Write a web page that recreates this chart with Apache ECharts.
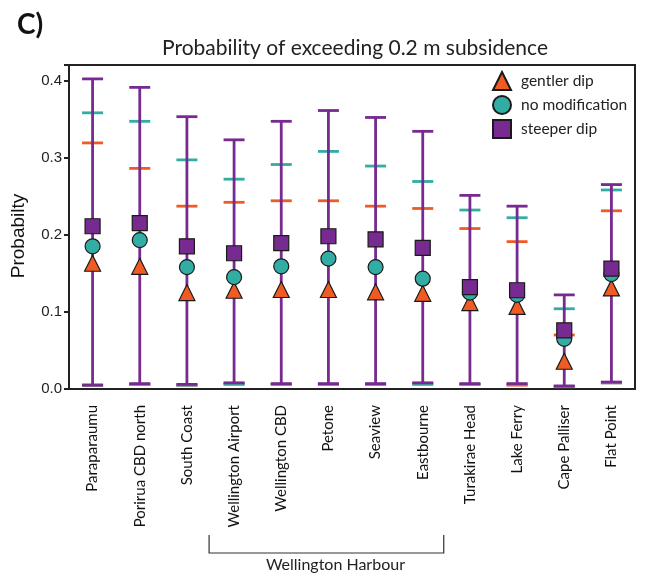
<!DOCTYPE html>
<html style="height: 100%">
<head>
<meta charset="utf-8">
<script src="https://cdn.jsdelivr.net/npm/echarts@6/dist/echarts.min.js"></script>
</head>
<body style="height: 100%; margin: 0; background: #fff">
<div id="container" style="width: 645px; height: 578px"></div>
<script type="text/javascript">
var sites = ['Paraparaumu', 'Porirua CBD north', 'South Coast', 'Wellington Airport', 'Wellington CBD',
    'Petone', 'Seaview', 'Eastbourne', 'Turakirae Head', 'Lake Ferry', 'Cape Palliser', 'Flat Point'];

// central values and upper / lower bounds
var gentlerMid = [0.163, 0.159, 0.125, 0.128, 0.129, 0.129, 0.126, 0.124, 0.112, 0.107, 0.036, 0.131];
var gentlerHi  = [0.319, 0.286, 0.237, 0.242, 0.244, 0.244, 0.237, 0.234, 0.208, 0.191, 0.070, 0.231];
var gentlerLo  = [0.005, 0.006, 0.005, 0.006, 0.006, 0.006, 0.006, 0.006, 0.006, 0.005, 0.003, 0.008];

var noModMid = [0.185, 0.193, 0.158, 0.145, 0.159, 0.169, 0.158, 0.143, 0.125, 0.122, 0.065, 0.149];
var noModHi  = [0.358, 0.347, 0.297, 0.272, 0.291, 0.308, 0.289, 0.269, 0.232, 0.222, 0.104, 0.258];
var noModLo  = [0.005, 0.006, 0.005, 0.007, 0.006, 0.006, 0.006, 0.007, 0.006, 0.006, 0.003, 0.008];

var steeperMid = [0.211, 0.215, 0.185, 0.176, 0.189, 0.198, 0.194, 0.183, 0.132, 0.128, 0.076, 0.156];
var steeperHi  = [0.402, 0.391, 0.353, 0.323, 0.347, 0.361, 0.352, 0.334, 0.251, 0.237, 0.122, 0.265];
var steeperLo  = [0.005, 0.007, 0.006, 0.008, 0.007, 0.007, 0.007, 0.008, 0.007, 0.007, 0.004, 0.009];

var yTicks = [0, 0.1, 0.2, 0.3, 0.4];

var ORANGE = '#EF5B23', TEAL = '#31ADA4', PURPLE = '#772B90';

function errData(lo, hi) {
    return sites.map(function (s, i) { return [i, lo[i], hi[i]]; });
}

function errSeries(name, lo, hi, color, withStem) {
    return {
        type: 'custom',
        name: name + '_err',
        silent: true,
        z: 2,
        data: errData(lo, hi),
        renderItem: function (params, api) {
            var lowPt = api.coord([api.value(0), api.value(1)]);
            var highPt = api.coord([api.value(0), api.value(2)]);
            var half = 10.5;
            var st = { stroke: color, lineWidth: 2.8 };
            var kids = [
                { type: 'line', shape: { x1: highPt[0] - half, y1: highPt[1], x2: highPt[0] + half, y2: highPt[1] }, style: st },
                { type: 'line', shape: { x1: lowPt[0] - half, y1: lowPt[1], x2: lowPt[0] + half, y2: lowPt[1] }, style: st }
            ];
            if (withStem) {
                kids.push({ type: 'line', shape: { x1: lowPt[0], y1: lowPt[1], x2: highPt[0], y2: highPt[1] }, style: st });
            }
            return { type: 'group', children: kids };
        }
    };
}

function markSeries(name, vals, symbol, size, color, z) {
    return {
        type: 'scatter',
        name: name,
        data: vals,
        symbol: symbol,
        symbolSize: size,
        z: z,
        itemStyle: { color: color, borderColor: '#1a1a1a', borderWidth: 1.2, opacity: 1 }
    };
}

var dom = document.getElementById('container');
var myChart = echarts.init(dom);
var option = {
    animation: false,
    textStyle: { fontFamily: 'Lato' },
    title: [
        { text: 'C)', left: 12, top: 6, textStyle: { fontSize: 28, fontWeight: 'bold', color: '#111', fontFamily: 'Lato' } },
        { text: 'Probability of exceeding 0.2 m subsidence', left: 350, textAlign: 'center', top: 33,
          textStyle: { fontSize: 21, fontWeight: 'normal', color: '#222', fontFamily: 'Lato' } }
    ],
    legend: {
        orient: 'vertical',
        left: 487,
        top: 66,
        itemWidth: 18,
        itemHeight: 18,
        itemGap: 4,
        data: ['gentler dip', 'no modification', 'steeper dip'],
        textStyle: { fontSize: 15.5, color: '#222', fontFamily: 'Lato', padding: [0, 0, 0, 5] }
    },
    grid: { left: 69, right: 10, top: 65, bottom: 189, show: true, borderColor: '#222', borderWidth: 2 },
    xAxis: {
        type: 'category',
        data: sites,
        axisLine: { lineStyle: { color: '#222', width: 2 } },
        axisTick: { alignWithLabel: true, length: 6, lineStyle: { color: '#222', width: 2 } },
        axisLabel: { rotate: 90, fontSize: 15, color: '#111', fontFamily: 'Lato', margin: 16 },
        splitLine: { show: false }
    },
    yAxis: {
        type: 'value',
        min: 0,
        max: 0.42,
        interval: 0.1,
        name: 'Probabilty',
        nameLocation: 'middle',
        nameGap: 41,
        nameTextStyle: { fontSize: 19, color: '#111', fontFamily: 'Liberation Sans', padding: [0, 18, 0, 0] },
        axisLine: { show: true, lineStyle: { color: '#222', width: 2 } },
        axisTick: { show: true, length: 5, lineStyle: { color: '#222', width: 2 } },
        axisLabel: {
            fontSize: 15, color: '#222', fontFamily: 'Liberation Sans', margin: 7,
            formatter: function (v) {
                for (var i = 0; i < yTicks.length; i++) {
                    if (Math.abs(v - yTicks[i]) < 1e-6) return yTicks[i].toFixed(1);
                }
                return '';
            }
        },
        splitLine: { show: false }
    },
    series: [
        errSeries('gentler dip', gentlerLo, gentlerHi, ORANGE, false),
        errSeries('no modification', noModLo, noModHi, TEAL, false),
        errSeries('steeper dip', steeperLo, steeperHi, PURPLE, true),
        markSeries('gentler dip', gentlerMid, 'triangle', 16, ORANGE, 5),
        markSeries('no modification', noModMid, 'circle', 15, TEAL, 6),
        markSeries('steeper dip', steeperMid, 'rect', 15, PURPLE, 7)
    ]
};
myChart.setOption(option);

// bracket under the harbour sites
var xa = myChart.convertToPixel({ xAxisIndex: 0 }, 3) - 25;
var xb = myChart.convertToPixel({ xAxisIndex: 0 }, 7) + 21;
myChart.setOption({
    graphic: [
        { type: 'polyline', shape: { points: [[xa, 535], [xa, 553], [xb, 553], [xb, 535]] },
          style: { stroke: '#333', lineWidth: 1.2, fill: null } },
        { type: 'text', x: (xa + xb) / 2 + 9, y: 557,
          style: { text: 'Wellington Harbour', fontSize: 16, fill: '#222', fontFamily: 'Lato', align: 'center' } }
    ]
});
</script>
</body>
</html>
